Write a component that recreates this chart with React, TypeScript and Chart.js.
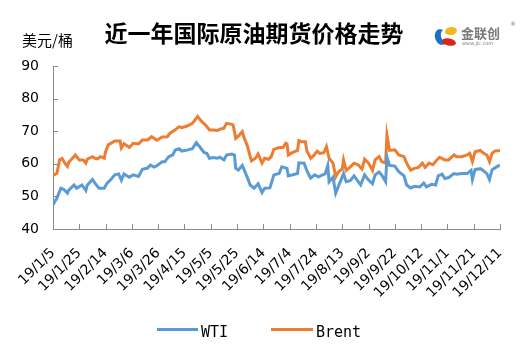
import { useEffect, useRef } from "react";
import { Chart, registerables } from "chart.js";

Chart.register(...registerables);

// Days after 2019-01-05 (axis start) and prices in USD/barrel
const startYear = 2019;
const startMonth = 0;
const startDay = 5;

const wtiDays = [0, 3, 6, 8, 11, 12, 16, 18, 22, 25, 26, 30, 32, 35, 39, 41, 44, 47, 50, 52, 54, 58, 61, 65, 68, 72, 74, 77, 79, 83, 85, 88, 91, 93, 96, 98, 102, 106, 109, 112, 115, 117, 119, 122, 125, 127, 130, 132, 136, 138, 139, 141, 144, 148, 150, 153, 156, 159, 161, 165, 168, 172, 174, 178, 179, 186, 187, 191, 193, 196, 199, 202, 205, 207, 209, 210, 213, 215, 217, 221, 223, 226, 229, 234, 237, 240, 243, 245, 248, 250, 253, 254, 256, 260, 263, 267, 269, 272, 275, 279, 282, 284, 288, 291, 293, 296, 298, 301, 305, 307, 311, 315, 318, 319, 321, 325, 327, 330, 332, 334, 338, 340];
const wtiValues = [47.4, 49.5, 52.5, 52.2, 51.0, 51.9, 53.5, 52.5, 53.5, 51.8, 53.4, 55.2, 54.0, 52.5, 52.5, 54.0, 55.2, 56.6, 56.9, 55.0, 56.9, 55.9, 56.6, 56.1, 58.3, 58.7, 59.6, 59.0, 59.4, 60.6, 60.6, 62.2, 62.7, 64.2, 64.6, 63.9, 64.2, 64.6, 66.5, 65.0, 63.4, 63.2, 61.7, 61.9, 61.7, 62.0, 61.2, 62.7, 63.0, 62.7, 58.6, 58.1, 59.5, 55.6, 53.5, 52.5, 53.9, 51.2, 52.5, 52.6, 56.6, 57.0, 59.1, 58.6, 56.3, 57.0, 60.3, 60.2, 58.0, 55.6, 56.6, 56.0, 56.6, 56.9, 59.5, 54.5, 55.9, 51.0, 53.0, 57.0, 54.5, 54.8, 56.3, 53.5, 56.6, 55.0, 53.9, 56.6, 57.5, 56.6, 54.5, 62.0, 59.5, 59.3, 57.6, 56.3, 53.5, 52.6, 53.1, 52.9, 54.1, 52.9, 53.7, 53.5, 56.3, 56.8, 55.5, 55.8, 57.0, 56.8, 57.0, 57.0, 58.0, 55.2, 58.2, 58.5, 58.0, 57.0, 55.2, 58.2, 59.2, 59.6];

const brentDays = [0, 3, 5, 7, 9, 11, 12, 16, 17, 20, 23, 25, 26, 30, 32, 34, 36, 39, 40, 42, 47, 51, 52, 54, 58, 61, 65, 68, 72, 75, 79, 83, 87, 89, 93, 96, 98, 102, 106, 110, 111, 113, 116, 119, 122, 125, 127, 130, 132, 136, 137, 139, 141, 144, 145, 148, 150, 151, 154, 156, 159, 161, 164, 166, 168, 172, 175, 177, 178, 179, 182, 186, 187, 189, 192, 193, 196, 198, 201, 203, 206, 208, 210, 213, 215, 217, 220, 221, 223, 226, 229, 232, 235, 237, 240, 243, 245, 248, 250, 253, 254, 256, 260, 263, 267, 269, 272, 275, 278, 281, 283, 286, 289, 292, 294, 298, 301, 305, 307, 311, 315, 317, 319, 321, 325, 327, 330, 332, 334, 336, 340];
const brentValues = [56.4, 57.1, 61.2, 61.6, 60.2, 59.2, 60.5, 62.2, 62.7, 61.2, 61.2, 60.2, 61.4, 62.2, 61.7, 61.5, 62.2, 61.7, 63.7, 65.8, 67.0, 67.0, 64.9, 66.2, 65.0, 66.3, 66.1, 67.3, 67.3, 68.3, 67.2, 68.2, 68.3, 69.4, 70.4, 71.4, 71.1, 71.6, 72.4, 74.5, 74.0, 73.0, 71.9, 70.4, 70.4, 70.2, 70.6, 70.9, 72.4, 72.1, 71.9, 67.8, 68.5, 69.9, 68.4, 65.3, 62.2, 60.9, 61.7, 63.0, 60.2, 61.7, 61.4, 62.2, 64.4, 65.0, 65.0, 66.3, 66.1, 62.7, 63.4, 64.1, 67.1, 66.8, 66.8, 64.1, 61.7, 62.4, 63.9, 63.2, 63.4, 65.3, 61.7, 60.2, 56.0, 57.5, 58.4, 61.2, 58.0, 59.0, 60.2, 59.7, 58.4, 61.4, 60.2, 58.0, 61.2, 62.2, 60.7, 60.2, 68.8, 64.1, 64.3, 62.7, 62.2, 60.2, 58.1, 58.6, 58.9, 60.2, 58.9, 60.2, 59.7, 61.2, 62.0, 61.2, 61.2, 62.7, 62.2, 62.2, 62.7, 63.2, 60.7, 63.7, 64.1, 63.4, 62.7, 60.7, 63.2, 63.9, 64.1];

const seriesNames = ["WTI", "Brent"];
const seriesColors = ["#5B9BD5", "#ED7D31"];
const yMin = 40;
const yMax = 90;
const yStep = 10;
const xSpanDays = 340;
const xStepDays = 20;
const titleText = "近一年国际原油期货价格走势";
const unitText = "美元/桶";

function dayLabel(v: number) {
  const d = new Date(startYear, startMonth, startDay + Math.round(v));
  return `${String(d.getFullYear()).slice(2)}/${d.getMonth() + 1}/${d.getDate()}`;
}

const FONT_TICK = '"DejaVu Sans", sans-serif';

const decorPlugin = {
  id: "decor",
  afterDraw(chart: any) {
    const ctx = chart.ctx as CanvasRenderingContext2D;
    const area = chart.chartArea;
    const xs = chart.scales.x;
    const ys = chart.scales.y;
    ctx.save();
    // inward tick marks
    ctx.strokeStyle = "#898989";
    ctx.lineWidth = 1;
    ctx.beginPath();
    xs.ticks.forEach((t: any) => {
      const px = Math.round(xs.getPixelForValue(t.value)) + 0.5;
      ctx.moveTo(px, area.bottom);
      ctx.lineTo(px, area.bottom - 5);
    });
    ys.ticks.forEach((t: any) => {
      const py = Math.round(ys.getPixelForValue(t.value)) + 0.5;
      ctx.moveTo(area.left, py);
      ctx.lineTo(area.left + 5, py);
    });
    ctx.stroke();

    // title
    ctx.fillStyle = "#000";
    ctx.textBaseline = "middle";
    ctx.textAlign = "center";
    ctx.font = 'bold 23px "Noto Sans CJK SC", sans-serif';
    ctx.fillText(titleText, 254, 33);
    // unit
    ctx.textAlign = "left";
    ctx.font = '15px "Noto Sans CJK SC", sans-serif';
    ctx.fillText(unitText, 22, 40);

    // logo
    ctx.fillStyle = "#1F6FC4";
    ctx.beginPath();
    ctx.ellipse(441, 37, 6, 8, -0.3, 0, Math.PI * 2);
    ctx.fill();
    ctx.fillStyle = "#fff";
    ctx.beginPath();
    ctx.ellipse(445, 36, 4, 6, -0.3, 0, Math.PI * 2);
    ctx.fill();
    ctx.fillStyle = "#F3B71B";
    ctx.beginPath();
    ctx.ellipse(451, 31, 6, 4, -0.2, 0, Math.PI * 2);
    ctx.fill();
    ctx.fillStyle = "#D9261C";
    ctx.beginPath();
    ctx.ellipse(449, 42, 7, 3.5, 0.2, 0, Math.PI * 2);
    ctx.fill();
    ctx.fillStyle = "#7a7a7a";
    ctx.font = 'bold 13px "Noto Sans CJK SC", sans-serif';
    ctx.textBaseline = "alphabetic";
    ctx.fillText("金联创", 461, 38);
    ctx.font = '5px "DejaVu Sans", sans-serif';
    ctx.fillText("www.jlc.com", 462, 45);
    ctx.font = '6px "DejaVu Sans", sans-serif';
    ctx.fillText("®", 510, 26);

    // legend
    const legendItems = [
      { x0: 157, x1: 198, tx: 201 },
      { x0: 271, x1: 313, tx: 316 },
    ];
    legendItems.forEach((it, i) => {
      ctx.strokeStyle = seriesColors[i];
      ctx.lineWidth = 3;
      ctx.beginPath();
      ctx.moveTo(it.x0, 329.5);
      ctx.lineTo(it.x1, 329.5);
      ctx.stroke();
      ctx.fillStyle = "#000";
      ctx.font = '15px "DejaVu Sans Mono", monospace';
      ctx.textBaseline = "middle";
      ctx.textAlign = "left";
      ctx.fillText(seriesNames[i], it.tx, 333);
    });
    ctx.restore();
  },
};

export default function App() {
  const ref = useRef<HTMLCanvasElement | null>(null);
  useEffect(() => {
    document.body.style.margin = "0";
    const canvas = ref.current!;
    const toPts = (days: number[], vals: number[]) => days.map((d, i) => ({ x: d, y: vals[i] }));
    const chart = new Chart(canvas, {
      type: "line",
      data: {
        datasets: [
          {
            label: seriesNames[0],
            data: toPts(wtiDays, wtiValues),
            borderColor: seriesColors[0],
            backgroundColor: seriesColors[0],
            borderWidth: 3,
            pointRadius: 0,
            tension: 0,
          },
          {
            label: seriesNames[1],
            data: toPts(brentDays, brentValues),
            borderColor: seriesColors[1],
            backgroundColor: seriesColors[1],
            borderWidth: 3,
            pointRadius: 0,
            tension: 0,
          },
        ],
      },
      options: {
        animation: false,
        responsive: false,
        devicePixelRatio: 1,
        layout: { padding: { top: 66, right: 32, left: 0, bottom: 0 } },
        plugins: {
          legend: { display: false },
          title: { display: false },
          tooltip: { enabled: false },
        },
        scales: {
          x: {
            type: "linear",
            min: 0,
            max: xSpanDays,
            afterFit: (s: any) => {
              s.height = 125;
            },
            grid: { display: false, drawTicks: false },
            border: { display: true, color: "#898989", width: 1 },
            ticks: {
              stepSize: xStepDays,
              autoSkip: false,
              maxRotation: 45,
              minRotation: 45,
              padding: 16,
              color: "#000",
              font: { family: FONT_TICK, size: 14 },
              callback: (v: any) => dayLabel(Number(v)),
            },
          },
          y: {
            min: yMin,
            max: yMax,
            afterFit: (s: any) => {
              s.width = 53;
            },
            grid: { display: false, drawTicks: false },
            border: { display: true, color: "#898989", width: 1 },
            ticks: {
              stepSize: yStep,
              padding: 14,
              color: "#000",
              font: { family: FONT_TICK, size: 14 },
            },
          },
        },
      },
      plugins: [decorPlugin],
    } as any);
    return () => chart.destroy();
  }, []);
  return (
    <div style={{ position: "absolute", left: 0, top: 0, width: 532, height: 354, background: "#fff" }}>
      <canvas ref={ref} width={532} height={354} />
    </div>
  );
}
